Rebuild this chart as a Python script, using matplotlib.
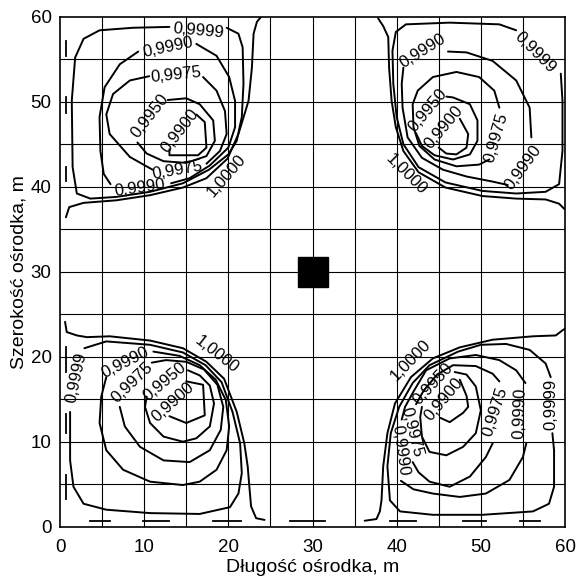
import matplotlib
matplotlib.use("Agg")
import matplotlib.pyplot as plt

plt.rcParams["font.family"] = ["Liberation Sans", "DejaVu Sans"]

X_TICKS = [0, 10, 20, 30, 40, 50, 60]
Y_TICKS = [0, 10, 20, 30, 40, 50, 60]
GRID_STEP = 5
SOURCE_X = 30
SOURCE_Y = 30

# isolines, (x, y) in metres
# top-left quadrant
tl_1000 = [(0.7, 36.4), (1.1, 37.6), (2.8, 38.1), (6.7, 38.4), (10.7, 39.0), (14.6, 39.9), (17.4, 41.0),
           (19.9, 43.3), (21.2, 46.2), (22.4, 50.1), (22.8, 54.0), (23.0, 58.0), (23.4, 59.4), (23.9, 60.0)]
tl_9999 = [(19.8, 58.7), (21.2, 58.0), (21.7, 56.4), (21.8, 52.1), (21.6, 48.2), (21.0, 45.4), (20.0, 43.8),
           (17.7, 42.0), (14.6, 40.4), (10.7, 39.4), (6.7, 38.8), (3.6, 38.6), (2.0, 39.2), (1.5, 42.3),
           (1.4, 50.1), (1.8, 55.2), (2.8, 57.4), (4.7, 58.4), (8.7, 58.7), (13.0, 58.8)]
tl_9990_a = [(16.2, 56.8), (18.6, 55.4), (20.1, 52.9), (20.8, 50.1), (20.8, 47.0), (20.0, 44.6), (17.8, 42.5),
             (15.4, 41.0), (13.2, 40.4)]
tl_9990_b = [(6.0, 40.3), (5.2, 41.5), (4.8, 44.2), (4.7, 48.2), (5.3, 51.7), (7.1, 54.4), (9.3, 55.9)]
tl_9975_a = [(17.0, 52.9), (18.6, 51.3), (19.6, 48.9), (19.8, 46.2), (19.0, 44.2), (17.4, 42.7)]
tl_9975_b = [(11.0, 42.0), (8.3, 43.5), (5.9, 46.2), (5.5, 48.5), (6.3, 50.9), (8.3, 52.5), (10.6, 53.0)]
tl_9950 = [(12.8, 50.2), (15.0, 50.4), (16.6, 49.7), (18.2, 47.8), (18.4, 45.4), (17.4, 43.6), (15.0, 42.8),
           (12.3, 43.0), (10.3, 43.9), (9.2, 45.2)]
tl_9900 = [(16.2, 48.5), (17.2, 47.6), (17.4, 44.6), (16.4, 43.7), (13.0, 43.7), (13.0, 44.4)]

# top-right quadrant
tr_1000 = [(37.8, 59.8), (38.4, 58.9), (39.0, 57.6), (39.1, 54.0), (39.4, 50.1), (39.9, 47.0), (40.8, 44.2),
           (42.6, 41.7), (45.8, 39.9), (50.2, 38.9), (54.2, 38.6), (57.7, 38.5), (59.3, 38.0), (59.9, 37.4)]
tr_9999 = [(54.2, 58.4), (52.2, 59.1), (46.3, 59.3), (41.1, 59.1), (39.9, 58.2), (39.5, 56.0), (39.6, 52.1),
           (40.0, 48.2), (40.8, 45.0), (42.6, 42.3), (45.8, 40.5), (50.2, 39.5), (54.2, 39.2), (57.7, 39.4),
           (59.3, 40.3), (59.7, 44.2), (59.7, 50.1), (59.5, 53.3)]
tr_9990_a = [(46.1, 55.9), (48.3, 55.8), (51.4, 54.8), (54.2, 52.5), (55.8, 49.3), (56.0, 45.8)]
tr_9990_b = [(53.2, 40.2), (51.4, 40.6), (48.3, 41.2), (45.5, 42.0), (43.0, 43.4), (41.3, 45.8), (40.7, 49.3),
             (40.6, 52.1), (40.8, 54.0)]
tr_9975 = [(52.2, 49.3), (51.6, 51.3), (49.8, 52.9), (47.1, 53.5), (44.3, 52.9), (42.5, 51.3), (41.9, 49.7),
           (42.0, 47.0), (42.7, 44.8), (44.5, 43.2), (47.1, 42.4), (49.8, 42.6), (51.0, 43.2)]
tr_9950 = [(45.9, 50.6), (46.7, 50.5), (48.7, 49.7), (49.6, 47.8), (49.6, 45.4), (48.7, 43.8), (46.7, 43.2),
           (44.5, 43.7), (43.0, 44.8), (42.3, 46.3)]
tr_9900 = [(47.5, 48.0), (48.5, 46.2), (48.3, 44.6), (47.1, 43.8), (45.9, 43.9), (45.0, 44.6)]

# bottom-left quadrant
bl_1000 = [(0.6, 24.1), (0.8, 22.9), (2.0, 22.5), (3.2, 22.3), (5.9, 22.4), (10.7, 21.9), (14.6, 21.0),
           (17.4, 19.4), (19.5, 17.4), (21.0, 13.5), (21.9, 9.8), (22.3, 7.1), (22.5, 4.7), (22.7, 2.4),
           (23.3, 1.0), (24.3, 0.8)]
bl_9999 = [(2.9, 21.0), (5.5, 21.8), (10.7, 21.4), (14.6, 20.5), (17.3, 19.0), (19.2, 17.0), (20.5, 13.5),
           (21.4, 9.8), (21.6, 6.3), (21.2, 3.9), (20.2, 2.3), (16.6, 1.5), (10.7, 1.6), (5.5, 2.0), (2.8, 2.7),
           (1.6, 4.7), (1.2, 7.8), (1.2, 13.5)]
bl_9990 = [(11.1, 20.6), (14.2, 20.1), (16.6, 19.0), (18.5, 17.3), (19.7, 14.9), (20.1, 11.8), (19.8, 9.0),
           (18.6, 6.7), (16.6, 5.3), (14.6, 4.9), (10.7, 5.3), (7.5, 6.7), (5.5, 9.0), (4.7, 12.2), (4.9, 15.3),
           (5.5, 17.6)]
bl_9975 = [(10.9, 19.3), (12.6, 19.6), (15.0, 19.4), (17.1, 18.5), (18.7, 16.7), (19.4, 14.1), (19.1, 11.4),
           (17.8, 9.0), (15.4, 7.6), (12.3, 7.8), (9.5, 9.4), (7.7, 11.8), (7.1, 14.1)]
bl_9950 = [(15.2, 18.4), (16.6, 17.8), (17.8, 16.6), (18.3, 14.5), (17.8, 11.8), (16.2, 10.4), (14.6, 10.0),
           (12.3, 10.6), (10.7, 12.2), (10.1, 14.1), (10.3, 15.3)]
bl_9900 = [(15.0, 17.1), (17.0, 16.7), (17.2, 13.1), (15.0, 12.2), (13.0, 13.0)]

# bottom-right quadrant
br_1000 = [(36.2, 0.7), (37.6, 0.9), (38.0, 1.8), (38.2, 3.1), (38.4, 7.1), (38.9, 11.0), (39.8, 14.5),
           (41.7, 17.6), (44.3, 19.8), (47.5, 21.1), (51.4, 22.0), (56.2, 22.4), (58.9, 22.5), (59.7, 23.1),
           (60.0, 23.3)]
br_9999 = [(58.3, 17.6), (57.7, 19.2), (55.8, 20.8), (53.0, 21.5), (50.0, 21.4), (47.3, 20.6), (43.9, 19.0),
           (41.9, 16.9), (40.3, 14.1), (39.3, 11.0), (38.9, 7.1), (39.2, 3.1), (40.4, 1.8), (44.3, 1.4),
           (50.2, 1.4), (56.2, 1.8), (58.1, 2.7), (58.7, 4.7), (58.7, 9.0), (58.5, 11.0)]
br_9990_a = [(55.3, 16.9), (54.2, 18.4), (52.2, 19.6), (49.4, 20.2), (46.3, 19.8), (43.5, 18.4), (42.0, 15.9),
             (41.0, 14.1), (40.6, 12.6)]
br_9990_b = [(40.5, 5.4), (42.0, 4.4), (44.3, 3.9), (47.5, 3.5), (50.6, 3.9), (53.4, 5.5), (55.0, 8.2),
             (55.4, 9.8)]
br_9975_a = [(52.2, 17.1), (51.4, 18.0), (49.4, 18.9), (46.7, 19.0), (44.8, 17.9), (43.2, 16.0), (42.3, 14.4)]
br_9975_b = [(41.9, 7.6), (42.6, 6.4), (43.9, 5.3), (46.3, 4.7), (48.7, 5.9), (50.6, 8.2), (51.4, 9.8)]
br_9950 = [(46.9, 18.2), (48.3, 17.9), (49.4, 16.5), (50.0, 13.7), (49.4, 11.0), (47.9, 9.4), (45.9, 8.4),
           (43.9, 8.8), (43.0, 10.6), (42.8, 12.9), (43.0, 14.1)]
br_9900 = [(47.5, 17.3), (48.3, 15.4), (48.5, 14.1), (47.9, 13.4), (46.3, 12.3), (45.2, 12.8)]

# short isoline fragments along the bottom and left borders
bottom_frag_x = [(3.6, 5.9), (9.9, 12.9), (18.2, 21.5), (27.3, 31.5), (39.2, 42.3), (47.9, 50.6), (54.6, 57.0)]
bottom_frag_y = 0.7
left_frag_y = [(55.4, 57.2), (48.7, 50.5), (40.7, 42.3), (18.2, 21.2), (11.0, 13.3), (3.3, 6.1)]
left_frag_x = 0.7

# inline labels: text, x, y, angle
tl_labels = [("1,0000", 19.8, 41.3, 49), ("0,9999", 16.4, 58.3, -5), ("0,9990", 12.8, 56.4, 12),
             ("0,9990", 9.5, 39.9, 8), ("0,9975", 13.8, 53.1, 6), ("0,9975", 14.0, 41.9, 10),
             ("0,9950", 10.7, 48.3, 52), ("0,9900", 14.2, 46.6, 52)]
tr_labels = [("1,0000", 41.1, 41.4, -45), ("0,9999", 56.4, 55.8, -45), ("0,9990", 43.1, 56.0, 32),
             ("0,9990", 55.0, 42.3, 54), ("0,9975", 51.8, 45.8, 74), ("0,9950", 43.7, 49.0, 50),
             ("0,9900", 45.6, 47.0, 50)]
bl_labels = [("1,0000", 18.6, 20.3, -38), ("0,9999", 2.0, 17.6, 78), ("0,9990", 7.8, 19.3, 27),
             ("0,9975", 8.6, 16.9, 44), ("0,9950", 12.5, 17.1, 40), ("0,9900", 13.4, 14.6, 42)]
br_labels = [("1,0000", 41.7, 19.6, 46), ("0,9999", 58.3, 14.4, 90), ("0,9990", 54.6, 13.4, 88),
             ("0,9990", 40.4, 9.0, -82), ("0,9975", 51.7, 13.5, 72), ("0,9975", 41.85, 11.1, -76),
             ("0,9950", 44.3, 16.8, 47), ("0,9900", 45.6, 15.0, 50)]

lines = [tl_1000, tl_9999, tl_9990_a, tl_9990_b, tl_9975_a, tl_9975_b, tl_9950, tl_9900,
         tr_1000, tr_9999, tr_9990_a, tr_9990_b, tr_9975, tr_9950, tr_9900,
         bl_1000, bl_9999, bl_9990, bl_9975, bl_9950, bl_9900,
         br_1000, br_9999, br_9990_a, br_9990_b, br_9975_a, br_9975_b, br_9950, br_9900]
labels = tl_labels + tr_labels + bl_labels + br_labels

fig = plt.figure(figsize=(5.77, 5.77), dpi=100)
ax = fig.add_axes([60 / 577, 50.3 / 577, 505 / 577, 510 / 577])

grid = list(range(0, 61, GRID_STEP))
for g in grid[1:-1]:
    ax.axvline(g, color="black", lw=0.8, zorder=1)
    ax.axhline(g, color="black", lw=0.8, zorder=1)

for pts in lines:
    xs, ys = zip(*pts)
    ax.plot(xs, ys, color="black", lw=1.4, zorder=3, solid_joinstyle="round", solid_capstyle="round")

for a, b in bottom_frag_x:
    ax.plot([a, b], [bottom_frag_y, bottom_frag_y], color="black", lw=1.3, zorder=3)
for a, b in left_frag_y:
    ax.plot([left_frag_x, left_frag_x], [a, b], color="black", lw=1.3, zorder=3)

for text, x, y, angle in labels:
    ax.text(x, y, text, rotation=angle, rotation_mode="anchor", ha="center", va="center",
            fontsize=12, zorder=4)

ax.plot([SOURCE_X], [SOURCE_Y], marker="s", markersize=22, color="black", zorder=5)

ax.set_xlim(0, 60)
ax.set_ylim(0, 60)
ax.set_xticks(X_TICKS)
ax.set_yticks(Y_TICKS)
ax.tick_params(length=0, labelsize=13.5)
ax.tick_params(axis="x", pad=9)
ax.tick_params(axis="y", pad=6)
for s in ax.spines.values():
    s.set_linewidth(1.2)
ax.set_xlabel("Długość ośrodka, m", fontsize=14, labelpad=2)
ax.set_ylabel("Szerokość ośrodka, m", fontsize=14, labelpad=2)

fig.savefig("out.png", dpi=100)
